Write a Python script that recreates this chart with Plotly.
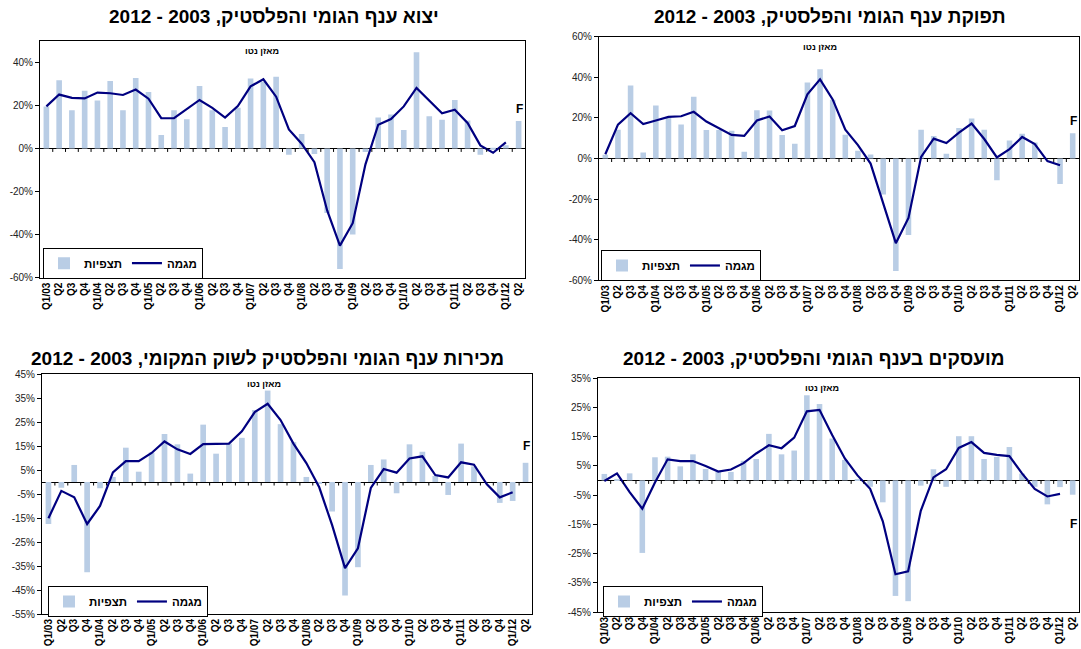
import plotly.graph_objects as go

# ---------------- data ----------------
quarters = ["Q1/03", "Q2", "Q3", "Q4", "Q1/04", "Q2", "Q3", "Q4", "Q1/05", "Q2", "Q3", "Q4",
            "Q1/06", "Q2", "Q3", "Q4", "Q1/07", "Q2", "Q3", "Q4", "Q1/08", "Q2", "Q3", "Q4",
            "Q1/09", "Q2", "Q3", "Q4", "Q1/10", "Q2", "Q3", "Q4", "Q1/11", "Q2", "Q3", "Q4",
            "Q1/12", "Q2"]

# Exports (top-left)
export_obs = [19.5, 31.6, 17.7, 26.8, 22.2, 31.3, 17.7, 32.7, 26.2, 6.2, 17.7, 13.5,
              29.0, 17.7, 9.9, 18.9, 32.4, 31.0, 33.3, -2.9, 6.7, -2.6, -30.0, -56.0,
              -40.0, -1.7, 14.4, 15.8, 8.5, 44.6, 14.9, 13.3, 22.5, 13.0, -2.9, -0.5,
              1.5, 12.7]
export_trend = [19.5, 25.0, 23.5, 23.2, 25.9, 25.6, 24.8, 27.3, 23.1, 14.1, 14.0, 18.3,
                22.5, 18.8, 14.3, 19.7, 28.8, 32.1, 24.0, 8.8, 2.2, -6.4, -28.8, -45.1,
                -34.7, -7.4, 11.0, 13.6, 19.5, 28.1, 22.3, 16.3, 18.0, 11.8, 1.4, -2.0,
                2.8, None]

# Output (top-right)
output_obs = [1.8, 14.2, 35.9, 3.0, 26.1, 20.0, 16.7, 30.4, 14.0, 14.0, 13.7, 3.3,
              23.8, 23.6, 11.6, 7.3, 37.4, 44.0, 29.0, 11.7, 3.8, 2.0, -17.7, -55.4,
              -37.7, 14.2, 11.1, 2.3, 15.0, 19.7, 14.2, -10.7, 8.9, 12.2, 7.9, 0.0,
              -12.6, 12.4]
output_trend = [2.1, 16.7, 22.3, 17.0, 18.7, 20.5, 20.8, 23.0, 18.2, 14.9, 11.6, 11.1,
                18.7, 20.7, 13.9, 16.0, 31.6, 39.0, 29.1, 14.2, 6.6, -2.5, -21.8, -41.7,
                -29.3, 0.8, 9.8, 7.6, 12.7, 17.2, 9.6, 0.5, 4.6, 10.6, 7.1, -1.3,
                -3.3, None]

# Domestic sales (bottom-left)
sales_obs = [-17.5, -2.4, 7.1, -37.6, -2.6, 2.1, 14.3, 4.3, 12.3, 20.0, 15.7, 3.5,
             23.9, 11.8, 16.0, 18.4, 30.0, 38.1, 24.1, 16.6, 2.1, -0.5, -12.3, -47.3,
             -35.5, 7.1, 9.4, -4.7, 15.7, 12.6, 2.5, -5.4, 16.0, 6.5, 0.0, -8.7,
             -7.9, 8.0]
sales_trend = [-15.1, -3.7, -6.4, -17.5, -10.0, 4.0, 8.7, 8.7, 12.1, 16.9, 13.6, 11.7,
               15.8, 16.0, 16.0, 21.1, 29.1, 32.6, 25.8, 16.0, 7.9, -2.2, -18.0, -35.9,
               -27.6, -2.5, 5.4, 3.9, 9.8, 10.7, 2.9, 1.9, 8.2, 7.2, -1.0, -6.4,
               -4.3, None]

# Employees (bottom-right)
emp_obs = [2.2, 0.5, 2.4, -24.8, 7.9, 8.1, 4.8, 8.9, 3.9, 2.9, 2.9, 6.7,
           7.3, 15.9, 8.9, 10.2, 29.1, 26.1, 14.3, 7.0, 0.3, -2.2, -7.5, -39.5,
           -41.3, -1.8, 3.8, -2.2, 15.1, 15.1, 7.3, 8.0, 11.4, 2.3, -2.2, -8.2,
           -2.3, -4.9]
emp_trend = [-0.2, 2.4, -4.0, -9.7, -0.7, 7.2, 6.6, 6.6, 4.9, 3.0, 3.7, 5.9,
             9.2, 12.0, 11.0, 14.6, 23.6, 24.1, 15.5, 7.5, 1.7, -2.9, -14.0, -32.1,
             -31.1, -10.4, 1.0, 3.8, 11.1, 13.1, 9.4, 8.7, 8.3, 2.4, -2.9, -5.5,
             -4.6, None]

titles = ["יצוא ענף הגומי והפלסטיק, 2003 - 2012",
          "תפוקת ענף הגומי והפלסטיק, 2003 - 2012",
          "מכירות ענף הגומי והפלסטיק לשוק המקומי, 2003 - 2012",
          "מועסקים בענף הגומי והפלסטיק, 2003 - 2012"]
obs_name = "תצפיות"
trend_name = "מגמה"
net_label = "מאזן נטו"
forecast_label = "F"

# ---------------- layout helpers ----------------
W, H = 1081, 649
BAR = "#B9CDE5"
LINE = "#000080"
FONT = "Arial"

panels = [
    dict(obs=export_obs, trend=export_trend, yr=(-60, 50), dt=20,
         box=(40, 525, 40.7, 277.7), tc=(274, 17), fy=18.3, nx=16.9, leg=(43, 247.7)),
    dict(obs=output_obs, trend=output_trend, yr=(-60, 60), dt=20,
         box=(599, 1079, 36.7, 280.3), tc=(830, 17), fy=18.3, nx=17.0, leg=(601, 250)),
    dict(obs=sales_obs, trend=sales_trend, yr=(-55, 45), dt=10,
         box=(42, 532, 374, 614), tc=(267, 358), fy=15.1, nx=16.7, leg=(48, 586)),
    dict(obs=emp_obs, trend=emp_trend, yr=(-45, 35), dt=10,
         box=(598, 1079, 378, 612), tc=(814, 358), fy=-15.0, nx=17.2, leg=(603, 586)),
]

fig = go.Figure()
xs = list(range(len(quarters)))
annotations = []
shapes = []
layout = {}

for i, p in enumerate(panels):
    n = "" if i == 0 else str(i + 1)
    xa, ya = "x" + n, "y" + n
    legname = "legend" + n
    fig.add_trace(go.Bar(x=xs, y=p["obs"], name=obs_name, marker_color=BAR,
                         marker_line_width=0, xaxis=xa, yaxis=ya, legend=legname))
    fig.add_trace(go.Scatter(x=xs, y=p["trend"], name=trend_name, mode="lines",
                             line=dict(color=LINE, width=2.2), xaxis=xa, yaxis=ya,
                             legend=legname, connectgaps=False))
    x0, x1, yt, yb = p["box"]
    lo, hi = p["yr"]
    tv = list(range(lo, hi + 1, p["dt"]))
    layout["xaxis" + n] = dict(
        domain=[x0 / W, x1 / W], anchor=ya, range=[-0.5, len(quarters) - 0.5],
        tickmode="array", tickvals=xs, ticktext=quarters, tickangle=-90,
        tickfont=dict(family=FONT, size=10, color="#000", weight="bold"),
        showline=True, mirror=True, linecolor="#000", linewidth=1,
        ticks="", showgrid=False, zeroline=False, automargin=False)
    layout["yaxis" + n] = dict(
        domain=[1 - yb / H, 1 - yt / H], anchor=xa, range=[lo, hi],
        tickmode="array", tickvals=tv, ticktext=[f"{v}%" for v in tv],
        tickfont=dict(family=FONT, size=10, color="#222"),
        showline=True, mirror=True, linecolor="#000", linewidth=1,
        ticks="outside", ticklen=4, tickcolor="#000",
        showgrid=False, zeroline=True, zerolinecolor="#000", zerolinewidth=1,
        automargin=False)
    lx, ly = p["leg"]
    layout[legname] = dict(
        x=lx / W, y=1 - ly / H, xanchor="left", yanchor="top", orientation="h",
        bordercolor="#000", borderwidth=1, bgcolor="#fff",
        font=dict(family=FONT, size=11.5, color="#000", weight="bold"),
        itemwidth=30, tracegroupgap=0)
    # small category tick marks on the zero line (Excel style)
    for k in range(len(quarters) - 1):
        shapes.append(dict(type="line", xref=xa, yref=ya, x0=k + 0.5, x1=k + 0.5,
                           ysizemode="pixel", yanchor=0, y0=-3.5, y1=0,
                           line=dict(color="#000", width=1)))
    annotations.append(dict(text=titles[i], x=p["tc"][0] / W, y=1 - p["tc"][1] / H,
                            xref="paper", yref="paper", showarrow=False,
                            xanchor="center", yanchor="middle",
                            font=dict(family=FONT, size=19, color="#000", weight="bold")))
    annotations.append(dict(text=net_label, x=p["nx"], y=0.957, xref=xa, yref=ya + " domain",
                            showarrow=False, xanchor="center", yanchor="middle",
                            font=dict(family=FONT, size=9, color="#000", weight="bold")))
    annotations.append(dict(text=forecast_label, x=len(quarters) - 1, y=p["fy"],
                            xref=xa, yref=ya, showarrow=False, xshift=1,
                            xanchor="center", yanchor="middle",
                            font=dict(family=FONT, size=12, color="#000", weight="bold")))

fig.update_layout(
    width=W, height=H, margin=dict(l=0, r=0, t=0, b=0, pad=0, autoexpand=False),
    paper_bgcolor="#fff", plot_bgcolor="#fff",
    bargap=0.56, annotations=annotations, shapes=shapes, showlegend=True,
    font=dict(family=FONT), **layout)

fig.write_html("out.html", config={"displayModeBar": False},
               post_script="document.body.style.margin='0';document.body.style.overflow='hidden';")
